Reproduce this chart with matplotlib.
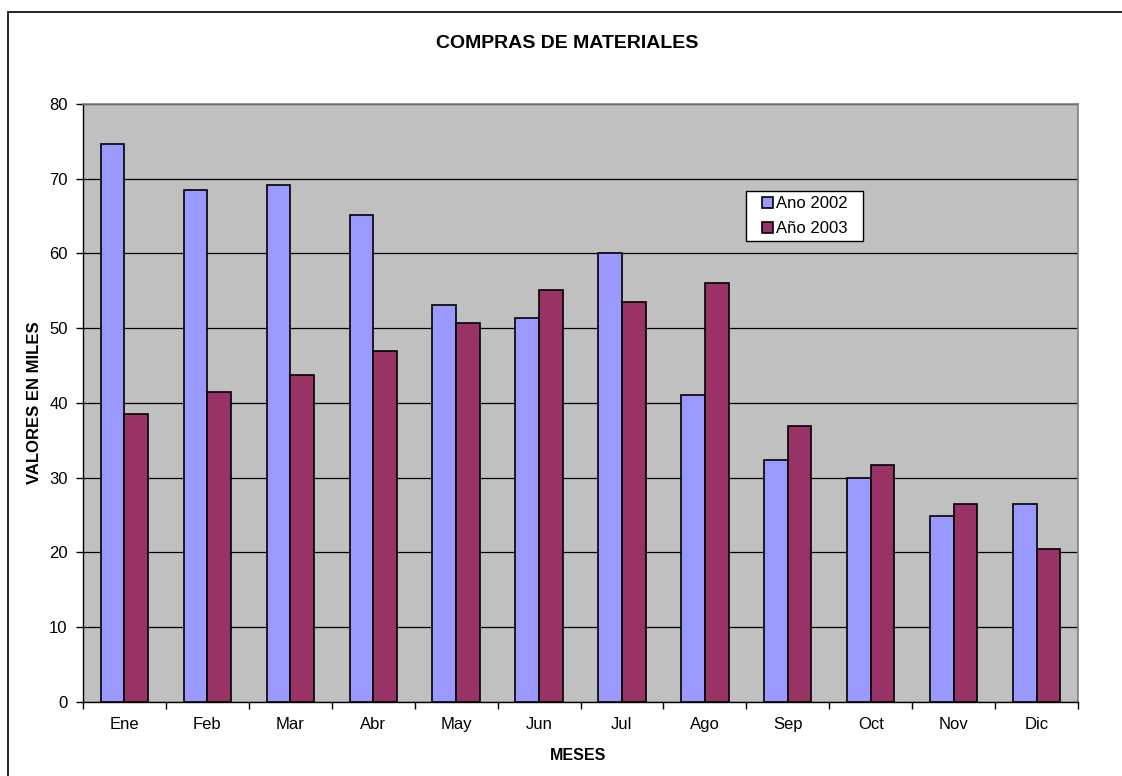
"""
Compras de materiales: barras agrupadas 2002 vs 2003 por mes.
"""

import matplotlib
matplotlib.use("Agg")
import matplotlib.pyplot as plt
import numpy as np
from matplotlib.patches import Rectangle

plt.rcParams["font.family"] = ["Liberation Sans", "DejaVu Sans"]

# ── Data ──────────────────────────────────────────────────────────────────────
meses = ["Ene", "Feb", "Mar", "Abr", "May", "Jun",
         "Jul", "Ago", "Sep", "Oct", "Nov", "Dic"]
ano_2002 = [74.7, 68.5, 69.2, 65.2, 53.1, 51.3, 60.1, 41.1, 32.4, 29.9, 24.9, 26.4]
ano_2003 = [38.5, 41.4, 43.7, 46.9, 50.7, 55.1, 53.5, 56.0, 36.9, 31.7, 26.4, 20.4]
y_ticks = [0, 10, 20, 30, 40, 50, 60, 70, 80]

# ── Figure ────────────────────────────────────────────────────────────────────
W, H = 1122, 776
fig = plt.figure(figsize=(W / 100, H / 100), dpi=100)
ax = fig.add_axes([83 / W, (H - 701.7) / H, (1078 - 83) / W, 597.7 / H])
ax.set_facecolor("#C0C0C0")

x = np.arange(len(meses))
bw = 0.285
ax.bar(x - bw / 2, ano_2002, bw, color="#9999FF", edgecolor="black",
       linewidth=1.2, label="Ano 2002", zorder=3)
ax.bar(x + bw / 2, ano_2003, bw, color="#993366", edgecolor="black",
       linewidth=1.2, label="Año 2003", zorder=3)

ax.set_xlim(-0.5, len(meses) - 0.5)
ax.set_ylim(0, 80)
ax.set_yticks(y_ticks)
ax.set_yticklabels([str(v) for v in y_ticks], fontsize=12)
ax.set_xticks(x)
ax.set_xticklabels(meses, fontsize=12)
ax.set_xticks(np.arange(-0.5, len(meses)), minor=True)
ax.tick_params(axis="x", which="major", length=0, pad=11)
ax.tick_params(axis="x", which="minor", length=5, width=1, direction="out")
ax.tick_params(axis="y", length=5, width=1, direction="out", pad=6)

ax.yaxis.grid(True, color="black", linewidth=0.9, zorder=1)
ax.set_axisbelow(True)
for s in ("top", "right"):
    ax.spines[s].set_color("#808080")
    ax.spines[s].set_linewidth(1.2)
for s in ("left", "bottom"):
    ax.spines[s].set_color("black")
    ax.spines[s].set_linewidth(1.0)

fig.text(567 / W, 1 - 44 / H, "COMPRAS DE MATERIALES", ha="center", va="center",
         fontsize=14, fontweight="bold")
fig.text(578 / W, 1 - 755 / H, "MESES", ha="center", va="center",
         fontsize=11.5, fontweight="bold")
fig.text(35 / W, 1 - 403 / H, "VALORES EN MILES", ha="center", va="center",
         rotation=90, fontsize=12, fontweight="bold")

# leyenda sin marco; el marco se dibuja aparte con más margen lateral
leg = ax.legend(loc="upper left", bbox_to_anchor=(762 / W, 1 - 196 / H),
                bbox_transform=fig.transFigure, fontsize=12, frameon=False,
                handlelength=0.65, handleheight=0.65, handletextpad=0.2,
                borderpad=0, labelspacing=0.62, borderaxespad=0)
leg.set_zorder(6)
for h in leg.legend_handles:
    h.set_linewidth(1.2)

fig.canvas.draw()
bb = leg.get_window_extent()
ax.add_patch(Rectangle(((bb.x0 - 16) / W, (bb.y0 - 5) / H),
                       (bb.width + 31) / W, (bb.height + 10) / H,
                       transform=fig.transFigure, facecolor="white",
                       edgecolor="black", linewidth=1.0, zorder=5,
                       clip_on=False))

# marco exterior del gráfico
fig.patches.append(Rectangle((7.5 / W, -0.1), 1.2, 1 - 12.5 / H + 0.1,
                             transform=fig.transFigure, fill=False,
                             edgecolor="black", linewidth=1.2))

fig.savefig("out.png", dpi=100)
